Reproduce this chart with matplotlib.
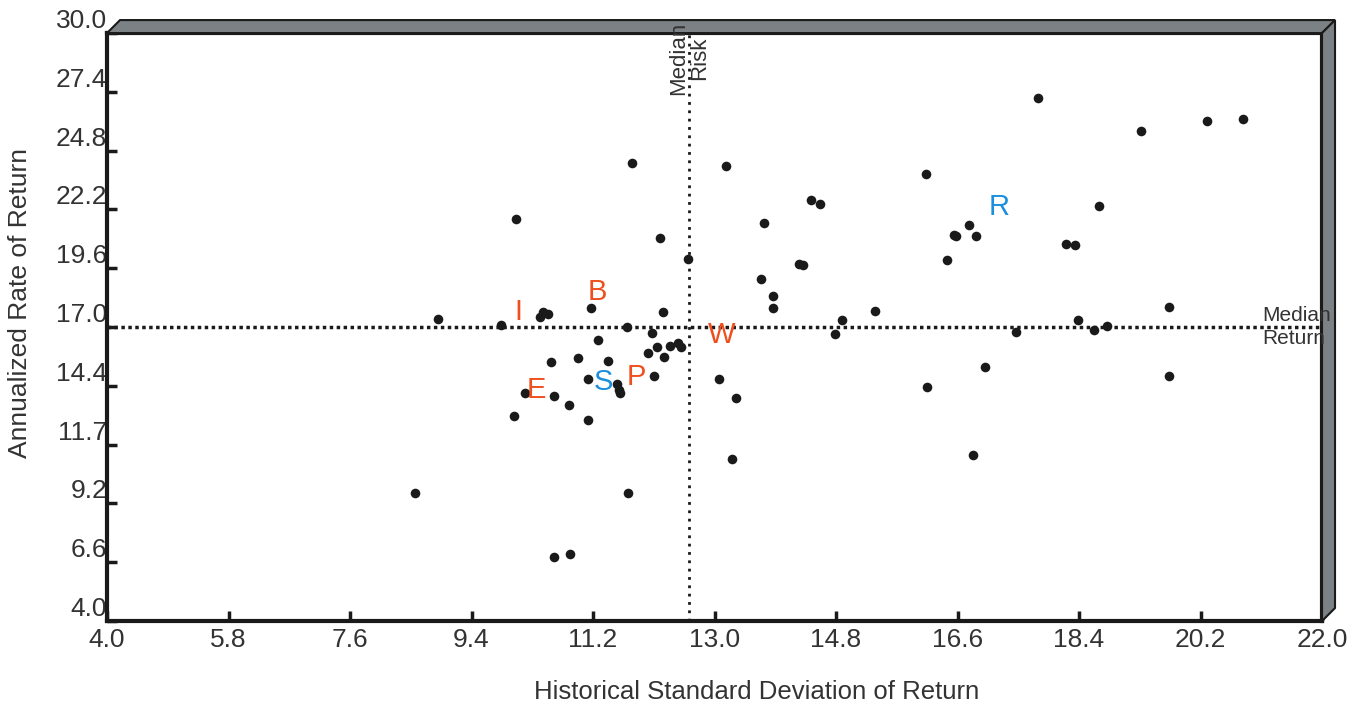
import numpy as np
import matplotlib.pyplot as plt
from matplotlib.patches import Polygon

plt.rcParams['font.family'] = ['Liberation Sans', 'DejaVu Sans']

# risk (x) / return (y) of each fund
risk = [8.56, 8.90, 9.84, 10.06, 10.03, 10.19, 10.41, 10.46, 10.53, 10.58,
        10.62, 10.62, 10.84, 10.86, 10.98, 11.13, 11.13, 11.17, 11.27, 11.42,
        11.56, 11.59, 11.60, 11.70, 11.72, 11.78, 12.01, 12.07, 12.10, 12.15,
        12.19, 12.24, 12.25, 12.34, 12.46, 12.50, 12.61, 13.07, 13.17, 13.26,
        13.32, 13.69, 13.73, 13.87, 13.87, 14.25, 14.31, 14.43, 14.56, 14.79,
        14.89, 15.38, 16.13, 16.15, 16.44, 16.55, 16.58, 16.77, 16.87, 16.83,
        17.01, 17.47, 17.79, 18.21, 18.34, 18.39, 18.62, 18.70, 18.81, 19.32,
        19.73, 19.73, 20.30, 20.83]
ret = [9.66, 17.35, 17.09, 21.78, 13.06, 14.08, 17.44, 17.66, 17.58, 15.45,
       13.95, 6.83, 13.55, 6.96, 15.63, 14.70, 12.89, 17.84, 16.43, 15.50,
       14.48, 14.21, 14.08, 17.00, 9.66, 24.25, 15.85, 16.73, 14.83, 16.12,
       20.94, 17.66, 15.67, 16.16, 16.29, 16.12, 20.01, 14.70, 24.12, 11.16,
       13.86, 19.12, 21.60, 18.37, 17.84, 19.79, 19.74, 22.62, 22.44, 16.69,
       17.31, 17.71, 23.77, 14.35, 19.96, 21.07, 21.02, 21.51, 21.02, 11.34,
       15.23, 16.78, 27.13, 20.67, 20.63, 17.31, 16.87, 22.35, 17.04, 25.67,
       17.88, 14.83, 26.11, 26.20]

# highlighted funds
lab_text = ['I', 'B', 'W', 'E', 'S', 'P', 'R']
lab_x = [10.10, 11.26, 13.11, 10.36, 11.36, 11.84, 17.21]
lab_y = [17.66, 18.55, 16.65, 14.21, 14.57, 14.79, 22.31]
lab_color = ['#EE4F1E', '#EE4F1E', '#EE4F1E', '#EE4F1E', '#1B8FDC', '#EE4F1E', '#1B8FDC']

median_risk = 12.62
median_return = 17.0

xticks = [4.0, 5.8, 7.6, 9.4, 11.2, 13.0, 14.8, 16.6, 18.4, 20.2, 22.0]
yticks = [4.0, 6.6, 9.2, 11.8, 14.4, 17.0, 19.6, 22.2, 24.8, 27.4, 30.0]
ytick_labels = ['4.0', '6.6', '9.2', '11.7', '14.4', '17.0', '19.6', '22.2', '24.8', '27.4', '30.0']

fig = plt.figure(figsize=(13.53, 7.05), dpi=100)
ax = fig.add_axes([0.0791, 0.1191, 0.898, 0.834])

ax.scatter(risk, ret, s=48, color='#1a1a1a', zorder=3, linewidths=0)

ax.axvline(median_risk, color='#1a1a1a', lw=2, linestyle=(0, (1, 2)), zorder=2)
ax.axhline(median_return, color='#1a1a1a', lw=2.5, linestyle=(0, (1, 1)), zorder=2)

for t, x, y, c in zip(lab_text, lab_x, lab_y, lab_color):
    ax.text(x, y, t, color=c, fontsize=21, ha='center', va='center', zorder=4)

ax.text(median_risk, 30.52, 'Median\nRisk', rotation=90, ha='center', va='top',
        fontsize=16, color='#333333', linespacing=1.0, clip_on=False, zorder=6)
ax.text(21.11, median_return, 'Median\nReturn', ha='left', va='center',
        fontsize=15, color='#333333', linespacing=1.25, clip_on=False, zorder=6)

ax.set_xlim(4, 22)
ax.set_ylim(4, 30)
ax.set_xticks(xticks)
ax.set_xticklabels([f'{v:.1f}' for v in xticks])
ax.set_yticks(yticks)
ax.set_yticklabels(ytick_labels)
ax.tick_params(direction='in', length=7, width=2.5, color='#1a1a1a',
               labelsize=19, labelcolor='#333333')
ax.tick_params(axis='y', pad=0)
ax.tick_params(axis='x', pad=5)
for lbl in ax.get_yticklabels():
    lbl.set_va('bottom')

for s in ['left', 'bottom', 'top', 'right']:
    ax.spines[s].set_linewidth(3)
    ax.spines[s].set_color('#1a1a1a')

# 3D box edges (top and right bands)
dx, dy = 13 / 1215, 13 / 588
top = Polygon([(0, 1), (dx, 1 + dy), (1 + dx, 1 + dy), (1, 1)], closed=True,
              transform=ax.transAxes, facecolor='#7B8184', edgecolor='#1a1a1a',
              lw=1.5, clip_on=False, zorder=5)
right = Polygon([(1, 1), (1 + dx, 1 + dy), (1 + dx, dy), (1, 0)], closed=True,
                transform=ax.transAxes, facecolor='#7B8184', edgecolor='#1a1a1a',
                lw=1.5, clip_on=False, zorder=5)
ax.add_patch(top)
ax.add_patch(right)

ax.set_xlabel('Historical Standard Deviation of Return', fontsize=18.5, color='#333333')
ax.xaxis.set_label_coords(0.535, -0.100)
ax.set_ylabel('Annualized Rate of Return', fontsize=19, color='#333333')
ax.yaxis.set_label_coords(-0.062, 0.541)

plt.savefig('out.png', dpi=100)
